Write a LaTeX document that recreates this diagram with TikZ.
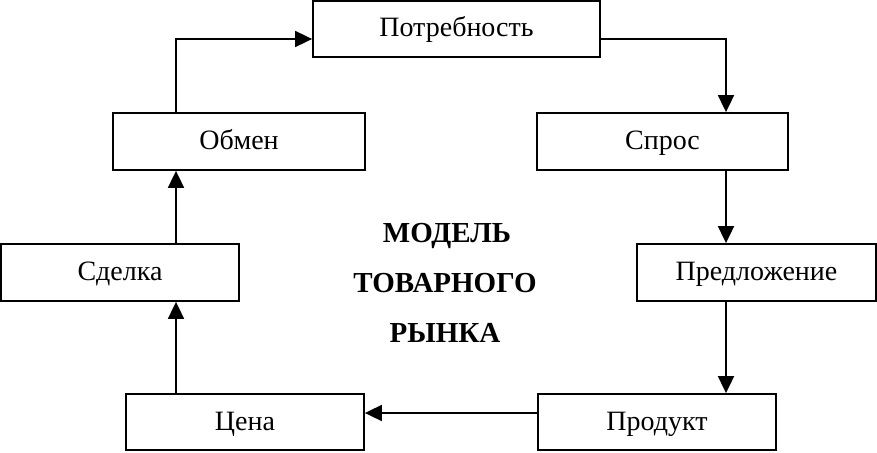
\documentclass[tikz,border=0pt]{standalone}
\usepackage{fontspec}
\setmainfont{Liberation Serif}
\usetikzlibrary{arrows.meta}
\tikzset{
  box/.style={draw, line width=1.8pt, inner sep=0pt, text height=20pt, text depth=4pt, font=\fontsize{28}{30}\selectfont},
  arr/.style={line width=1.8pt, -{Triangle[length=17pt,width=16pt]}},
  title/.style={anchor=base, font=\bfseries\fontsize{29}{30}\selectfont}
}
\begin{document}
\begin{tikzpicture}[x=1pt,y=-1pt]
\useasboundingbox (0,0) rectangle (877,452);
\node[box, minimum width=287pt, minimum height=56pt] (potr) at (456.5,29) {Потребность};
\node[box, minimum width=252pt, minimum height=57pt] (obmen) at (239,141.5) {Обмен};
\node[box, minimum width=251pt, minimum height=57pt] (spros) at (662.5,141.5) {Спрос};
\node[box, minimum width=238pt, minimum height=57pt] (sdelka) at (120,272.5) {Сделка};
\node[box, minimum width=239pt, minimum height=57pt] (predl) at (756.5,272.5) {Предложение};
\node[box, minimum width=238pt, minimum height=56pt] (cena) at (245,422) {Цена};
\node[box, minimum width=238pt, minimum height=56pt] (prod) at (657,422) {Продукт};
\node[title] (t1) at (447,242) {МОДЕЛЬ};
\node[title] (t2) at (445,292) {ТОВАРНОГО};
\node[title] (t3) at (445,342) {РЫНКА};
\coordinate (cl) at (176,39);
\coordinate (cr) at (726,39);
\coordinate (cb) at (0,413);
\draw[arr] (obmen.north -| cl) |- (potr.west |- cl);
\draw[arr] (potr.east |- cr) -| (spros.north -| cr);
\draw[arr] (spros.south -| cr) -- (predl.north -| cr);
\draw[arr] (predl.south -| cr) -- (prod.north -| cr);
\draw[arr] (prod.west |- cb) -- (cena.east |- cb);
\draw[arr] (cena.north -| cl) -- (sdelka.south -| cl);
\draw[arr] (sdelka.north -| cl) -- (obmen.south -| cl);
\end{tikzpicture}
\end{document}
